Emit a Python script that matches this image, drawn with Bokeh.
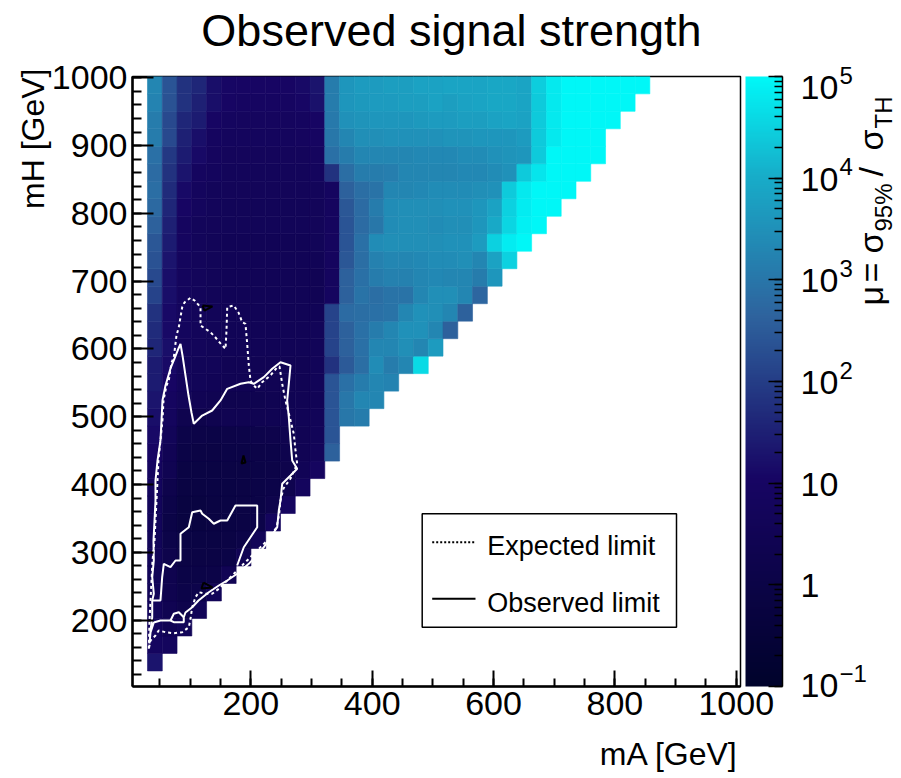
import math
import numpy as np
from bokeh.plotting import figure
from bokeh.models import (Range1d, LogColorMapper, SingleIntervalTicker,
                          ColumnDataSource, ColorBar, LogTicker)
from bokeh.layouts import column
from bokeh.embed import file_html
from bokeh.resources import INLINE
from bokeh.core.properties import value

FONT = "Liberation Sans"

# ---------------- data ----------------
title_text = "Observed signal strength"
x_title = "mA [GeV]"
y_title = "mH [GeV]"

x_range = (5, 1007)
y_range = (102, 1002)

# bin edges of the 2D histogram (GeV)
mA_edges = [29.7, 54.1, 78.4, 102.8, 127.1, 151.5, 175.8, 200.2, 224.5, 248.9, 273.2, 297.6,
            321.9, 346.3, 370.6, 395.0, 419.3, 443.7, 468.0, 492.4, 516.7, 541.1, 565.4, 589.8,
            614.1, 638.5, 662.8, 687.2, 711.5, 735.9, 760.2, 784.6, 808.9, 833.3, 857.6]
mH_edges = [125.0, 150.8, 176.6, 202.4, 228.2, 254.0, 279.8, 305.6, 331.4, 357.2, 383.0, 408.8,
            434.6, 460.4, 486.2, 512.0, 537.8, 563.6, 589.4, 615.2, 641.0, 666.8, 692.6, 718.4,
            744.2, 770.0, 795.8, 821.6, 847.4, 873.2, 899.0, 924.8, 950.6, 976.4, 1002.2]

# log10(mu) per mH row (lowest row first); entries run over mA columns from the first column
log10_mu = [
    [1.3],
    [0.9, 0.8],
    [0.8, 0.5, 0.6],
    [0.7, 0.4, 0.2, 0.6],
    [0.6, 0.3, 0.1, 0.15, 0.6],
    [0.6, 0.3, 0.0, 0.0, 0.05, 0.5],
    [0.6, 0.2, -0.05, -0.05, -0.05, 0.0, 0.5],
    [0.6, 0.1, -0.1, -0.1, -0.1, -0.05, 0.05, 0.6],
    [0.7, 0.0, -0.2, -0.2, -0.15, -0.1, -0.05, 0.1, 0.8],
    [0.7, 0.1, -0.2, -0.2, -0.15, -0.1, -0.05, 0.0, 0.2, 0.9],
    [0.8, 0.2, -0.15, -0.15, -0.1, -0.1, -0.05, 0.0, 0.1, 0.3, 0.8],
    [0.9, 0.4, -0.1, -0.1, -0.1, -0.05, -0.05, 0.0, 0.05, 0.2, 0.55, 0.9],
    [1.0, 0.5, 0.0, -0.05, -0.05, 0.0, 0.0, 0.05, 0.1, 0.25, 0.5, 0.65, 2.6],
    [1.1, 0.6, 0.1, 0.05, 0.0, 0.05, 0.1, 0.15, 0.2, 0.3, 0.5, 0.6, 2.4],
    [1.2, 0.8, 0.3, 0.2, 0.3, 0.4, 0.4, 0.4, 0.45, 0.5, 0.55, 0.6, 2.4, 3.0, 3.1],
    [1.3, 0.9, 0.6, 0.5, 0.4, 0.3, 0.3, 0.35, 0.4, 0.45, 0.5, 0.55, 2.4, 3.0, 3.3, 3.3],
    [1.4, 1.0, 0.7, 0.6, 0.55, 0.5, 0.5, 0.5, 0.5, 0.5, 0.5, 0.6, 2.4, 2.9, 3.1, 3.3, 3.25],
    [1.4, 1.1, 0.7, 0.6, 0.6, 0.5, 0.5, 0.5, 0.5, 0.5, 0.5, 0.6, 1.8, 2.5, 2.85, 3.4, 3.1, 3.3, 4.6],
    [1.6, 1.2, 0.75, 0.7, 0.6, 0.55, 0.55, 0.55, 0.55, 0.55, 0.55, 0.6, 2.1, 2.6, 2.9, 3.3, 3.3, 3.45, 3.3, 3.7],
    [1.7, 1.1, 0.8, 0.7, 0.6, 0.55, 0.55, 0.55, 0.55, 0.55, 0.55, 0.6, 2.1, 2.6, 2.9, 3.1, 3.3, 3.5, 3.5, 3.3, 2.6],
    [1.8, 1.1, 0.8, 0.7, 0.6, 0.55, 0.55, 0.55, 0.55, 0.55, 0.55, 0.55, 2.1, 2.8, 2.85, 2.9, 2.95, 3.3, 3.5, 3.45, 3.3, 2.6],
    [2.1, 1.2, 0.8, 0.7, 0.6, 0.55, 0.55, 0.55, 0.55, 0.55, 0.55, 0.5, 0.9, 2.6, 2.95, 2.85, 2.95, 2.95, 3.3, 3.45, 3.45, 3.3, 2.7],
    [2.2, 1.2, 0.8, 0.7, 0.6, 0.55, 0.55, 0.55, 0.55, 0.55, 0.55, 0.5, 0.85, 2.6, 2.9, 3.1, 3.2, 3.2, 3.3, 3.35, 3.3, 3.3, 3.1, 3.6],
    [2.35, 1.3, 0.8, 0.7, 0.6, 0.55, 0.55, 0.55, 0.55, 0.55, 0.55, 0.55, 0.85, 2.45, 2.85, 3.2, 3.3, 3.3, 3.35, 3.4, 3.4, 3.45, 3.3, 3.8, 4.5],
    [2.45, 1.4, 0.9, 0.7, 0.6, 0.55, 0.55, 0.55, 0.55, 0.55, 0.55, 0.6, 0.85, 2.4, 2.9, 3.4, 3.45, 3.45, 3.45, 3.45, 3.5, 3.5, 3.7, 4.5, 4.85, 5.1],
    [2.6, 1.5, 0.9, 0.7, 0.65, 0.6, 0.6, 0.6, 0.6, 0.6, 0.6, 0.65, 0.85, 2.4, 2.8, 3.0, 3.4, 3.45, 3.45, 3.4, 3.45, 3.45, 3.6, 3.95, 4.55, 4.9, 5.1],
    [2.75, 1.6, 1.0, 0.8, 0.7, 0.6, 0.6, 0.6, 0.6, 0.6, 0.6, 0.65, 0.85, 2.45, 2.8, 3.1, 3.4, 3.45, 3.45, 3.45, 3.5, 3.5, 3.6, 3.8, 4.5, 4.85, 5.1, 5.1],
    [2.85, 1.7, 1.1, 0.8, 0.7, 0.65, 0.65, 0.65, 0.65, 0.65, 0.65, 0.7, 0.9, 2.6, 2.85, 2.95, 3.3, 3.3, 3.35, 3.4, 3.4, 3.4, 3.45, 3.5, 4.4, 4.8, 5.1, 5.1, 5.1],
    [2.8, 1.8, 1.3, 0.9, 0.8, 0.7, 0.7, 0.7, 0.7, 0.7, 0.7, 0.8, 1.8, 2.85, 3.1, 3.1, 3.15, 3.3, 3.3, 3.3, 3.3, 3.35, 3.35, 3.4, 3.5, 4.4, 4.75, 5.1, 5.1, 5.1],
    [2.9, 1.9, 1.4, 1.1, 0.85, 0.75, 0.75, 0.75, 0.75, 0.75, 0.75, 0.85, 2.9, 3.1, 3.3, 3.3, 3.3, 3.3, 3.35, 3.35, 3.35, 3.4, 3.4, 3.5, 3.55, 3.6, 4.4, 5.1, 5.1, 5.1, 5.1],
    [3.1, 2.2, 1.5, 1.2, 0.9, 0.8, 0.8, 0.8, 0.8, 0.8, 0.85, 0.95, 3.0, 3.3, 3.45, 3.45, 3.5, 3.5, 3.5, 3.5, 3.55, 3.55, 3.6, 3.6, 3.6, 3.7, 4.4, 4.8, 5.1, 5.1, 5.1],
    [3.1, 2.2, 1.6, 1.4, 1.0, 0.9, 0.85, 0.85, 0.85, 0.85, 0.9, 1.0, 3.05, 3.5, 3.55, 3.6, 3.6, 3.6, 3.65, 3.7, 3.7, 3.75, 3.75, 3.8, 3.85, 3.8, 4.4, 4.8, 5.1, 5.1, 5.1, 5.1],
    [3.25, 2.35, 1.8, 1.5, 1.2, 1.0, 0.95, 0.95, 0.95, 0.95, 1.05, 1.25, 3.1, 3.6, 3.65, 3.7, 3.7, 3.75, 3.75, 3.8, 3.75, 3.8, 3.85, 3.9, 3.9, 3.85, 4.4, 4.8, 5.1, 5.1, 5.1, 5.1, 5.1],
    [3.3, 2.4, 1.8, 1.6, 1.2, 1.05, 1.0, 1.0, 1.0, 1.0, 1.1, 1.3, 3.1, 3.6, 3.7, 3.7, 3.75, 3.75, 3.8, 3.8, 3.85, 3.85, 3.85, 3.9, 3.9, 3.85, 4.45, 4.8, 5.1, 5.1, 5.1, 5.1, 5.1, 5.1],
]

# mu = 1 contours (GeV)
expected_mA = [31.9, 33.0, 34.7, 36.3, 38.0, 41.3, 42.9, 44.6, 46.2, 47.8, 51.1, 54.4, 56.1, 61.0,
               64.8, 69.3, 73.1, 77.5, 81.3, 86.9, 90.7, 100.6, 107.2, 117.1, 117.1, 117.1, 133.5,
               141.8, 150.0, 158.3, 159.9, 161.1, 172.0, 179.7, 185.8, 191.2, 194.0, 196.7, 199.5,
               202.3, 210.5, 218.7, 232.4, 243.5, 247.3, 251.7, 257.1, 264.2, 270.8, 273.6, 276.4,
               265.4, 253.8, 248.9, 246.4, 242.3, 227.0, 204.9, 188.4, 177.5, 166.5, 155.5, 147.2,
               136.3, 125.3, 114.3, 108.8, 103.4, 100.6, 97.8, 86.9, 73.1, 59.4, 48.3, 42.9, 34.7,
               31.9]
expected_mH = [157.6, 199.4, 228.9, 258.4, 287.9, 317.4, 346.9, 376.4, 405.9, 435.4, 465.0, 494.5,
               524.0, 546.1, 553.5, 580.0, 587.9, 619.9, 632.1, 661.6, 668.6, 675.5, 671.5, 661.6,
               647.9, 634.6, 624.7, 616.9, 608.1, 600.2, 627.2, 661.6, 664.1, 653.8, 639.5, 637.1,
               607.6, 575.6, 553.5, 548.6, 541.2, 551.0, 560.9, 573.1, 574.1, 548.6, 524.0, 499.3,
               474.8, 450.2, 430.6, 408.9, 394.1, 376.4, 354.3, 336.6, 317.4, 297.8, 283.0, 273.1,
               263.3, 253.5, 246.1, 238.8, 238.8, 241.1, 233.8, 219.0, 201.9, 189.5, 182.1, 180.6,
               182.1, 184.6, 177.2, 169.9, 157.6]

observed_mA = [33.0, 34.7, 37.5, 37.5, 40.1, 37.5, 40.1, 39.6, 41.3, 42.9, 42.9, 46.2, 51.1, 52.8,
               54.4, 59.4, 67.6, 74.2, 80.8, 84.1, 87.4, 92.3, 97.3, 102.2, 106.0, 119.9, 136.3,
               150.0, 161.1, 183.0, 196.7, 204.9, 221.4, 235.2, 248.9, 265.4, 262.6, 259.9, 262.6,
               265.4, 268.2, 276.4, 265.4, 251.7, 248.9, 246.1, 243.5, 221.4, 196.7, 177.5, 161.1,
               147.2, 130.2, 113.8, 103.4, 92.3, 89.5, 89.5, 73.1, 67.6, 51.1, 40.1, 34.7, 33.0]
observed_mH = [165.4, 184.6, 204.2, 228.9, 238.8, 263.3, 287.9, 317.4, 346.9, 376.4, 405.9, 435.4,
               465.0, 494.5, 524.0, 546.1, 571.2, 585.9, 600.7, 607.6, 590.4, 560.9, 531.3, 506.3,
               489.6, 501.8, 509.2, 524.0, 541.2, 548.6, 551.0, 548.6, 558.4, 570.7, 580.5, 575.6,
               548.6, 524.0, 499.3, 465.0, 435.4, 423.2, 413.3, 401.1, 376.4, 361.7, 337.0, 307.5,
               283.0, 268.3, 258.4, 251.0, 240.7, 228.9, 219.0, 211.2, 204.2, 196.9, 196.9, 199.4,
               199.4, 196.4, 181.7, 165.4]
observed_inner_mA = [[177.5, 188.4, 210.5, 210.5, 174.7, 161.1, 150.0, 139.0, 130.7, 119.9, 117.1,
                      103.4, 97.8, 84.1, 84.1, 75.9, 67.6, 56.6, 53.9, 51.1, 37.5],
                     [67.6, 73.1, 81.3, 89.5]]
observed_inner_mH = [[280.5, 307.5, 337.0, 369.0, 369.0, 346.9, 346.9, 342.1, 349.4, 356.8, 361.7,
                      359.2, 337.0, 327.3, 287.9, 287.9, 278.0, 283.0, 263.3, 228.9, 228.9],
                     [199.4, 209.3, 211.6, 204.2]]

black_mA = [[120.4, 136.8, 123.7, 120.4], [187.9, 191.2, 184.6, 187.9], [122.0, 136.8, 118.7, 122.0]]
black_mH = [[664.1, 662.7, 656.7, 664.1], [442.8, 432.5, 431.0, 442.8], [255.4, 248.1, 246.6, 255.4]]

z_low, z_high = 0.1, 1e5
z_ticks = [0.1, 1, 10, 100, 1000, 10000, 100000]
z_tick_base = ["10", "1", "10", "10", "10", "10", "10"]
z_tick_exp = ["\u22121", "", "", "2", "3", "4", "5"]

legend_labels = ["Expected limit", "Observed limit"]

# ---------------- palette (ROOT "deep sea" stops) ----------------
stops = [0.00, 0.34, 0.61, 0.84, 1.00]
st_r = [0.00, 0.09, 0.18, 0.09, 0.00]
st_g = [0.01, 0.02, 0.39, 0.68, 0.97]
st_b = [0.17, 0.39, 0.62, 0.79, 0.97]
tt = np.linspace(0, 1, 255)
palette = ["#%02x%02x%02x" % (int(round(255 * np.interp(t, stops, st_r))),
                              int(round(255 * np.interp(t, stops, st_g))),
                              int(round(255 * np.interp(t, stops, st_b)))) for t in tt]
mapper = LogColorMapper(palette=palette, low=z_low, high=z_high)

# ---------------- geometry (canvas px) ----------------
W, H = 900, 776
FL, FR, FT, FB = 132, 740, 76, 686   # plot frame
MID = 0.35                            # baseline -> em-box middle, in font sizes


def X(px):
    return x_range[0] + (px - FL) * (x_range[1] - x_range[0]) / (FR - FL)


def Y(py):
    return y_range[0] + (FB - py) * (y_range[1] - y_range[0]) / (FB - FT)


p = figure(width=W, height=H, x_range=Range1d(*x_range), y_range=Range1d(*y_range),
           output_backend="svg", toolbar_location=None,
           min_border_left=FL, min_border_right=W - FR, min_border_top=FT, min_border_bottom=H - FB)
p.grid.visible = False
p.background_fill_color = "white"
p.border_fill_color = "white"
p.outline_line_color = "black"
p.outline_line_width = 1.5

# ---------------- heat map ----------------
left, right, bottom, top, mu = [], [], [], [], []
for r, vals in enumerate(log10_mu):
    for c, lv in enumerate(vals):
        left.append(mA_edges[c]); right.append(mA_edges[c + 1])
        bottom.append(mH_edges[r]); top.append(mH_edges[r + 1])
        mu.append(10 ** lv)
src = ColumnDataSource(dict(left=left, right=right, bottom=bottom, top=top, mu=mu))
p.quad(left="left", right="right", bottom="bottom", top="top", source=src,
       fill_color={"field": "mu", "transform": mapper},
       line_color={"field": "mu", "transform": mapper}, line_width=0.6)

# ---------------- contours ----------------
p.line(expected_mA, expected_mH, line_color="white", line_width=2, line_dash="3 3")
p.line(observed_mA, observed_mH, line_color="white", line_width=2)
p.multi_line(observed_inner_mA, observed_inner_mH, line_color="white", line_width=2)
p.multi_line(black_mA, black_mH, line_color="black", line_width=2)

# ---------------- axes ----------------
p.xaxis.ticker = SingleIntervalTicker(interval=200, num_minor_ticks=4)
p.yaxis.ticker = SingleIntervalTicker(interval=100, num_minor_ticks=5)
for ax in (p.xaxis[0], p.yaxis[0]):
    ax.axis_line_width = 2.5
    ax.axis_line_color = "black"
    ax.major_tick_out = 0
    ax.minor_tick_out = 0
    ax.major_tick_line_width = 2
    ax.minor_tick_line_width = 2
    ax.major_tick_line_color = "black"
    ax.minor_tick_line_color = "black"
    ax.major_label_text_font = FONT
    ax.major_label_text_font_size = "34px"
    ax.major_label_text_color = "black"
    ax.major_label_standoff = 5
p.xaxis.major_tick_in = 16
p.xaxis.minor_tick_in = 8
p.yaxis.major_tick_in = 21
p.yaxis.minor_tick_in = 9

# ---------------- legend (drawn as in ROOT) ----------------
p.quad(left=[X(421.7)], right=[X(676)], top=[Y(513.3)], bottom=[Y(626.7)],
       fill_color="white", line_color="black", line_width=1.5)
p.line([X(431.7), X(475)], [Y(541.7), Y(541.7)], line_color="black", line_width=2, line_dash="2 2")
p.line([X(431.7), X(475)], [Y(598.3), Y(598.3)], line_color="black", line_width=2)
p.text(x=[X(486.7), X(486.7)], y=[Y(555 - MID * 27), Y(611.7 - MID * 27)], text=legend_labels,
       text_font=value(FONT), text_font_size="27px", text_baseline="middle",
       text_align="left", text_color="black")

# ---------------- colour bar ----------------
cb = ColorBar(color_mapper=mapper, ticker=LogTicker(num_minor_ticks=10), location=(745 - FL, 0),
              width=37, height=FB - FT, padding=0, margin=0,
              major_tick_in=14, major_tick_out=0, minor_tick_in=8, minor_tick_out=0,
              major_tick_line_color="black", minor_tick_line_color="black",
              major_tick_line_width=1.5, minor_tick_line_width=1.5,
              major_label_text_font_size="12px", major_label_text_alpha=0.0,
              bar_line_color=None, border_line_color=None, background_fill_color=None)
p.add_layout(cb, "center")

# ---------------- text layer (titles, colour-bar labels), canvas pixel coordinates ----------------
ov = figure(width=W, height=H, x_range=Range1d(0, W), y_range=Range1d(H, 0),
            output_backend="svg", toolbar_location=None, x_axis_location=None,
            y_axis_location=None, min_border=0, outline_line_color=None,
            background_fill_color=None, border_fill_color=None)
ov.grid.visible = False
ov.margin = (-H, 0, 0, 0)
for fig in (p, ov):
    try:
        fig.frame_align = False
    except Exception:
        pass


def txt(x, y, t, size, align="left", angle=0.0):
    """(x, y) is the text baseline point in canvas pixels."""
    if angle == 0.0:
        y = y - MID * size
    else:
        x = x - MID * size
    ov.text(x=[x], y=[y], text=[t], text_font=value(FONT), text_font_size="%dpx" % size,
            text_align=align, text_baseline="middle", angle=angle, text_color="black")


txt(451, 46, title_text, 45, align="center")
txt(738, 765, x_title, 32, align="right")
txt(44, 68, y_title, 32, align="right", angle=math.pi / 2)

# colour-bar axis line on the right edge of the bar
ov.line([782, 782], [FT, FB], line_color="black", line_width=1.5)


def cb_py(v):
    return FB - (math.log10(v) + 1) / 6 * (FB - FT)


for v, base, ex in zip(z_ticks, z_tick_base, z_tick_exp):
    py = min(max(cb_py(v), FT + 10), FB - 2)
    txt(800, py + 13, base, 34)
    if ex:
        txt(839, py - 3, ex, 24)

# colour-bar title  mu = sigma_95% / sigma_TH  (reads bottom to top), right of the labels
cb_title_parts = [("\u03bc", 34, 305, 882), ("=", 34, 282, 882), ("\u03c3", 34, 253, 882),
                  ("95%", 24, 231, 891), ("/", 34, 176, 882), ("\u03c3", 34, 150, 882),
                  ("TH", 24, 128, 891)]
for t, fs, py0, px0 in cb_title_parts:
    txt(px0, py0, t, fs, angle=math.pi / 2)

open("out.html", "w").write(file_html(column(p, ov), INLINE))
